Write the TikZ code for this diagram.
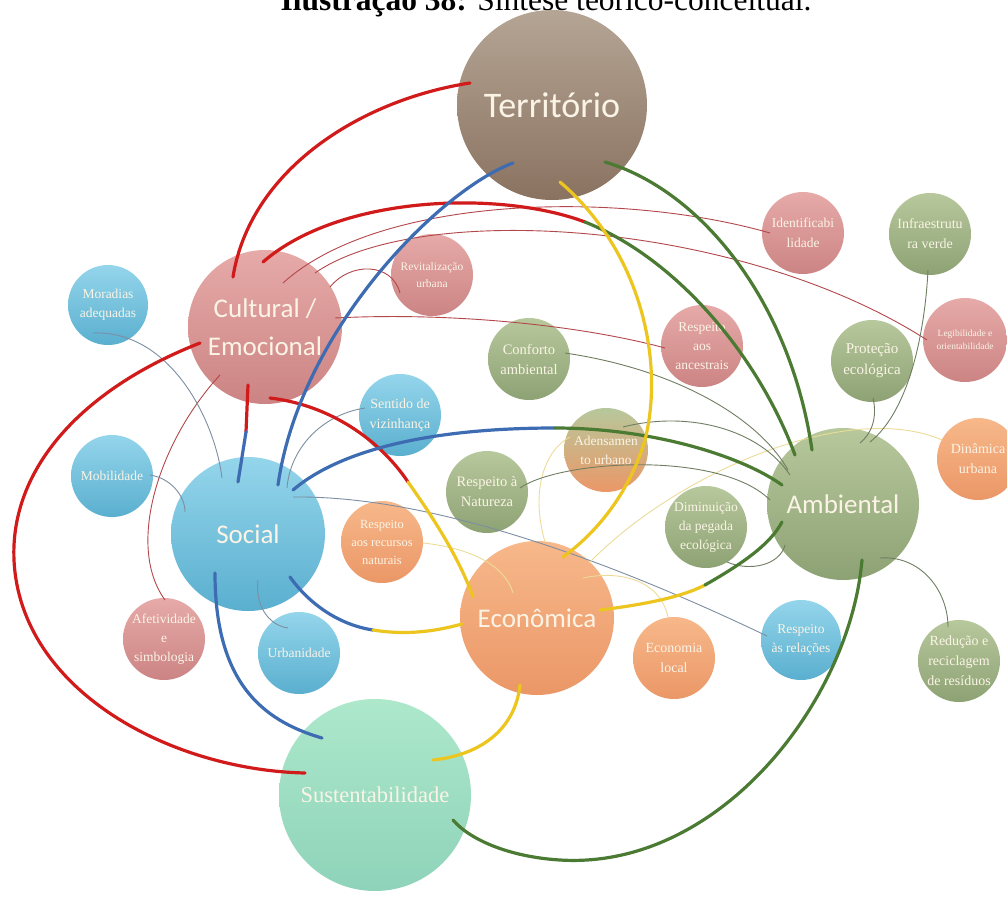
\documentclass[tikz,border=0pt]{standalone}
\usepackage{fontspec}
\setmainfont{Liberation Serif}
\newfontfamily\headfont{Carlito}
\usetikzlibrary{calc}
\definecolor{cream}{HTML}{FBF4E6}
\definecolor{browntop}{HTML}{B5A595}
\definecolor{brownbot}{HTML}{8A7260}
\definecolor{pinktop}{HTML}{E6AAA8}
\definecolor{pinkbot}{HTML}{CB8483}
\definecolor{bluetop}{HTML}{94D5EB}
\definecolor{bluebot}{HTML}{5AAFCF}
\definecolor{greentop}{HTML}{B7C89C}
\definecolor{greenbot}{HTML}{8DA274}
\definecolor{orangetop}{HTML}{F7B88A}
\definecolor{orangebot}{HTML}{EB9767}
\definecolor{minttop}{HTML}{ADE8CB}
\definecolor{mintbot}{HTML}{8ED3BA}
\definecolor{linkred}{HTML}{D11B1B}
\definecolor{linkblue}{HTML}{3E6CB2}
\definecolor{linkyellow}{HTML}{EDC51F}
\definecolor{linkgreen}{HTML}{4B7A33}
\definecolor{tiered}{HTML}{B3474B}
\definecolor{tieblue}{HTML}{7D8EA2}
\definecolor{tiegreen}{HTML}{6F7E62}
\definecolor{tieyellow}{HTML}{ECDC98}

\begin{document}
\begin{tikzpicture}[
    x=1pt, y=-1pt,
    core/.style={circle, inner sep=0pt, minimum size=154pt, align=center, text=cream, font=\fontsize{27}{38}\selectfont\headfont},
    sub/.style={circle, inner sep=0pt, minimum size=82pt, align=center, text=cream, font=\fontsize{13.5}{19}\selectfont},
    brownfill/.style={top color=browntop, bottom color=brownbot},
    pinkfill/.style={top color=pinktop, bottom color=pinkbot},
    bluefill/.style={top color=bluetop, bottom color=bluebot},
    greenfill/.style={top color=greentop, bottom color=greenbot},
    orangefill/.style={top color=orangetop, bottom color=orangebot},
    link/.style={line width=3.2pt, line cap=round},
    tie/.style={line width=0.9pt},
]
    \useasboundingbox (0,0) rectangle (1007,897);
    \fill[white] (0,0) rectangle (1007,897);
    \clip (0,0) rectangle (1007,897);

    % Caption (top line only partly on the page)
    \node[anchor=base, inner sep=0pt, font=\fontsize{31.5}{36}\selectfont] (cap) at (546,10)
        {\textbf{Ilustração 38:} Síntese teórico-conceitual.};

    % Main dimensions
    \node[core, brownfill, minimum size=190pt, font=\fontsize{36}{40}\selectfont\headfont] (terr) at (552,105) {Território};
    \node[core, pinkfill] (cult) at (265,327) {Cultural /\\Emocional};
    \node[core, bluefill] (soc) at (248,534) {Social};
    \node[core, orangefill] (econ) at (537,618) {Econômica};
    \node[core, greenfill, minimum size=152pt] (amb) at (843,504) {Ambiental};
    \node[core, top color=minttop, bottom color=mintbot, minimum size=192pt, font=\fontsize{22.5}{26}\selectfont] (sust) at (375,795) {Sustentabilidade};

    % Cultural / emotional items
    \node[sub, pinkfill, font=\fontsize{11.5}{17}\selectfont] (rev) at (432,275) {Revitalização\\urbana};
    \node[sub, pinkfill] (anc) at (702,346) {Respeito\\aos\\ancestrais};
    \node[sub, pinkfill, font=\fontsize{13.5}{20}\selectfont] (ident) at (803,233) {Identificabi\\lidade};
    \node[sub, pinkfill, minimum size=84pt, font=\fontsize{9.5}{13}\selectfont] (legib) at (965,340) {Legibilidade e\\orientabilidade};
    \node[sub, pinkfill] (afet) at (164,639) {Afetividade\\e\\simbologia};

    % Social items
    \node[sub, bluefill, minimum size=80pt] (mor) at (108,305) {Moradias\\adequadas};
    \node[sub, bluefill] (mob) at (112,476) {Mobilidade};
    \node[sub, bluefill, font=\fontsize{14}{20}\selectfont] (viz) at (400,415) {Sentido de\\vizinhança};
    \node[sub, bluefill] (urb) at (299,653) {Urbanidade};
    \node[sub, bluefill, minimum size=80pt] (rel) at (801,640) {Respeito\\às relações};

    % Economic items
    \node[sub, orangefill, font=\fontsize{12.5}{18}\selectfont] (recn) at (382,542) {Respeito\\aos recursos\\naturais};
    \node[sub, orangefill, font=\fontsize{14}{20}\selectfont] (loc) at (674,658) {Economia\\local};
    \node[sub, orangefill, font=\fontsize{14}{20}\selectfont] (din) at (978,459) {Dinâmica\\urbana};
    \node[sub, top color=greentop, bottom color=orangebot, minimum size=84pt] (aden) at (606,450) {Adensamen\\to urbano};

    % Environmental items
    \node[sub, greenfill, font=\fontsize{14.5}{20}\selectfont] (conf) at (529,359) {Conforto\\ambiental};
    \node[sub, greenfill, font=\fontsize{14}{20}\selectfont] (infra) at (930,234) {Infraestrutu\\ra verde};
    \node[sub, greenfill, font=\fontsize{15}{21}\selectfont] (prot) at (872,361) {Proteção\\ecológica};
    \node[sub, greenfill, font=\fontsize{14.5}{20}\selectfont] (nat) at (487,492) {Respeito à\\Natureza};
    \node[sub, greenfill] (pega) at (706,527) {Diminuição\\da pegada\\ecológica};
    \node[sub, greenfill, font=\fontsize{14}{20}\selectfont] (resid) at (959,661) {Redução e\\reciclagem\\de resíduos};

    % Split points of the two-coloured links
    \coordinate (rg) at (585,222);
    \coordinate (rb) at (246,432);
    \coordinate (ry) at (408,482);
    \coordinate (bg) at (555,428);
    \coordinate (by) at (373,630);
    \coordinate (yg) at (705,585);

    % Thin links
    \draw[tie, tiered] ($(cult)+(18,-44)$) .. controls (380,195) and (620,190) .. ($(ident)+(-33,0)$);
    \draw[tie, tiered] ($(cult)+(50,-54)$) .. controls (420,200) and (740,220) .. ($(legib)+(-38,0)$);
    \draw[tie, tiered] ($(cult)+(65,-40)$) .. controls (350,262) and (392,262) .. ($(rev)+(-32,18)$);
    \draw[tie, tiered] ($(cult)+(70,-9)$) .. controls (450,312) and (580,325) .. ($(anc)+(-37,2)$);
    \draw[tie, tiered] ($(cult)+(-45,48)$) .. controls (160,440) and (125,545) .. ($(afet)+(1,-39)$);
    \draw[tie, tieblue] ($(mor)+(-15,28)$) .. controls (170,330) and (215,420) .. ($(soc)+(-26,-56)$);
    \draw[tie, tieblue] ($(mob)+(38,-1)$) .. controls (170,478) and (185,495) .. ($(soc)+(-63,-22)$);
    \draw[tie, tieblue] ($(viz)+(-35,-7)$) .. controls (320,415) and (290,450) .. ($(soc)+(39,-46)$);
    \draw[tie, tieblue] ($(soc)+(45,-37)$) .. controls (450,495) and (650,580) .. ($(rel)+(-34,-4)$);
    \draw[tie, tieblue] ($(soc)+(10,46)$) .. controls (255,605) and (268,625) .. ($(urb)+(-11,-25)$);
    \draw[tie, tieyellow] ($(recn)+(41,1)$) .. controls (470,548) and (505,565) .. ($(econ)+(-24,-25)$);
    \draw[tie, tieyellow] ($(econ)+(46,-40)$) .. controls (620,570) and (660,580) .. ($(loc)+(-6,-41)$);
    \draw[tie, tieyellow] ($(econ)+(52,-55)$) .. controls (680,470) and (850,400) .. ($(din)+(-36,-19)$);
    \draw[tie, tieyellow] ($(econ)+(8,-76)$) .. controls (530,490) and (545,450) .. ($(aden)+(-36,-13)$);
    \draw[tie, tiegreen] ($(conf)+(36,-6)$) .. controls (680,370) and (760,420) .. ($(amb)+(-55,-34)$);
    \draw[tie, tiegreen] ($(aden)+(17,-23)$) .. controls (690,410) and (760,430) .. ($(amb)+(-53,-29)$);
    \draw[tie, tiegreen] ($(nat)+(33,-4)$) .. controls (560,460) and (720,450) .. ($(amb)+(-73,-4)$);
    \draw[tie, tiegreen] ($(pega)+(21,35)$) .. controls (750,572) and (780,565) .. ($(amb)+(-58,41)$);
    \draw[tie, tiegreen] ($(prot)+(1,37)$) .. controls (878,420) and (870,435) .. ($(amb)+(17,-61)$);
    \draw[tie, tiegreen] ($(infra)+(-2,36)$) .. controls (925,330) and (910,410) .. ($(amb)+(27,-62)$);
    \draw[tie, tiegreen] ($(amb)+(37,54)$) .. controls (920,555) and (948,590) .. ($(resid)+(-11,-34)$);

    % Thick links
    \draw[link, linkred] ($(terr)+(-82,-22)$) .. controls (360,100) and (250,170) .. ($(cult)+(-32,-50)$);
    \draw[link, linkred] ($(cult)+(-2,-65)$) .. controls (340,195) and (500,190) .. (rg);
    \draw[link, linkgreen] (rg) .. controls (680,260) and (760,360) .. ($(amb)+(-48,-49)$);
    \draw[link, linkred] ($(cult)+(-65,16)$) .. controls (80,390) and (10,470) .. (14,560)
        .. controls (20,690) and (170,770) .. ($(sust)+(-70,-22)$);
    \draw[link, linkred] ($(cult)+(-17,58)$) -- (rb);
    \draw[link, linkblue] (rb) -- ($(soc)+(-10,-52)$);
    \draw[link, linkred] ($(cult)+(5,71)$) .. controls (330,405) and (380,440) .. (ry);
    \draw[link, linkyellow] (ry) .. controls (435,520) and (460,560) .. ($(econ)+(-64,-21)$);
    \draw[link, linkblue] ($(terr)+(-39,58)$) .. controls (440,190) and (300,330) .. ($(soc)+(30,-49)$);
    \draw[link, linkblue] ($(soc)+(45,-44)$) .. controls (340,450) and (430,428) .. (bg);
    \draw[link, linkgreen] (bg) .. controls (650,428) and (740,455) .. ($(amb)+(-61,-19)$);
    \draw[link, linkblue] ($(soc)+(-33,39)$) .. controls (215,680) and (260,720) .. ($(sust)+(-53,-57)$);
    \draw[link, linkblue] ($(soc)+(42,43)$) .. controls (310,605) and (340,625) .. (by);
    \draw[link, linkyellow] (by) .. controls (410,636) and (440,630) .. ($(econ)+(-75,6)$);
    \draw[link, linkyellow] ($(terr)+(8,77)$) .. controls (640,250) and (665,360) .. (645,440)
        .. controls (630,490) and (600,530) .. ($(econ)+(26,-61)$);
    \draw[link, linkyellow] ($(econ)+(-17,67)$) .. controls (515,730) and (480,755) .. ($(sust)+(58,-35)$);
    \draw[link, linkyellow] ($(econ)+(63,-8)$) .. controls (640,605) and (680,598) .. (yg);
    \draw[link, linkgreen] (yg) .. controls (740,565) and (770,545) .. ($(amb)+(-61,18)$);
    \draw[link, linkgreen] ($(terr)+(53,57)$) .. controls (700,190) and (790,300) .. ($(amb)+(-31,-54)$);
    \draw[link, linkgreen] ($(amb)+(19,56)$) .. controls (850,700) and (720,870) .. (560,860)
        .. controls (510,857) and (470,840) .. ($(sust)+(78,25)$);
\end{tikzpicture}
\end{document}
